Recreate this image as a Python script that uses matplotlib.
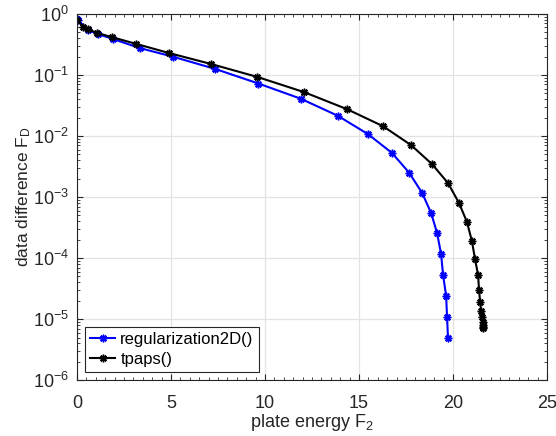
import numpy as np
import matplotlib
matplotlib.use("Agg")
import matplotlib.pyplot as plt
from matplotlib.ticker import MultipleLocator, LogLocator, NullFormatter

plt.rcParams['font.family'] = ['Liberation Sans', 'DejaVu Sans']
plt.rcParams['mathtext.fontset'] = 'custom'
plt.rcParams['mathtext.rm'] = 'Liberation Sans'
plt.rcParams['mathtext.it'] = 'Liberation Sans'

# regularization2D() curve: plate energy F2 vs data difference FD
reg_f2 = [0.0, 0.05, 0.58, 1.12, 1.91, 3.35, 5.1, 7.34, 9.65, 11.91, 13.88, 15.48,
          16.76, 17.66, 18.35, 18.83, 19.15, 19.36, 19.47, 19.63, 19.68, 19.73]
reg_fd_log = [-0.08, -0.1, -0.26, -0.33, -0.41, -0.56, -0.70, -0.90, -1.14, -1.39, -1.67, -1.97,
              -2.28, -2.60, -2.93, -3.26, -3.59, -3.93, -4.28, -4.62, -4.97, -5.31]

# tpaps() curve
tps_f2 = [0.0, 0.32, 0.58, 1.06, 1.86, 3.14, 4.89, 7.13, 9.57, 12.07, 14.36, 16.28, 17.77,
          18.88, 19.73, 20.32, 20.74, 21.0, 21.17, 21.33, 21.38, 21.44, 21.49, 21.54,
          21.58, 21.6, 21.6, 21.6]
tps_fd_log = [-0.1, -0.21, -0.25, -0.31, -0.38, -0.49, -0.64, -0.82, -1.03, -1.28, -1.56, -1.84, -2.15,
              -2.46, -2.77, -3.10, -3.41, -3.72, -4.02, -4.28, -4.52, -4.72, -4.87, -4.97,
              -5.05, -5.10, -5.13, -5.15]

reg_fd = 10 ** np.array(reg_fd_log)
tps_fd = 10 ** np.array(tps_fd_log)

fig = plt.figure(figsize=(5.56, 4.36), dpi=100)
ax = fig.add_axes([0.1385, 0.128, 0.8455, 0.84])

# MATLAB-like asterisk marker
star = (8, 2, 0)
ax.semilogy(reg_f2, reg_fd, color="#0000ff", marker=star, markersize=5.5, markeredgewidth=1.1,
            linewidth=1.5, label="regularization2D()")
ax.semilogy(tps_f2, tps_fd, color="black", marker=star, markersize=5.5, markeredgewidth=1.1,
            linewidth=1.5, label="tpaps()")

ax.set_xlim(0, 25)
ax.set_ylim(1e-6, 1)
ax.xaxis.set_major_locator(MultipleLocator(5))
ax.xaxis.set_minor_locator(MultipleLocator(0.5))
ax.yaxis.set_major_locator(LogLocator(base=10, numticks=10))
ax.yaxis.set_minor_locator(LogLocator(base=10, subs=np.arange(2, 10), numticks=10))
ax.yaxis.set_minor_formatter(NullFormatter())

ax.grid(True, which="major", color="#e3e3e3", linewidth=0.9)
ax.set_axisbelow(True)
ax.tick_params(which="both", direction="in", top=True, right=True, colors="#262626",
               labelsize=13)
ax.tick_params(which="major", length=4)
ax.tick_params(which="minor", length=2)
ax.tick_params(axis="x", pad=11)
ax.tick_params(axis="y", pad=6)
for s in ax.spines.values():
    s.set_color("#262626")
    s.set_linewidth(0.8)

ax.set_xlabel("plate energy F$_2$", fontsize=13, color="#262626", labelpad=0)
ax.set_ylabel("data difference F$_\\mathrm{D}$", fontsize=12.5, color="#262626", labelpad=0)

leg = ax.legend(loc="lower left", fontsize=12, fancybox=False, framealpha=1,
                edgecolor="#262626", handlelength=1.5, borderpad=0.3, labelspacing=0.3,
                handletextpad=0.3, borderaxespad=0.5)
leg.get_frame().set_linewidth(0.8)

fig.savefig("out.png", dpi=100)
